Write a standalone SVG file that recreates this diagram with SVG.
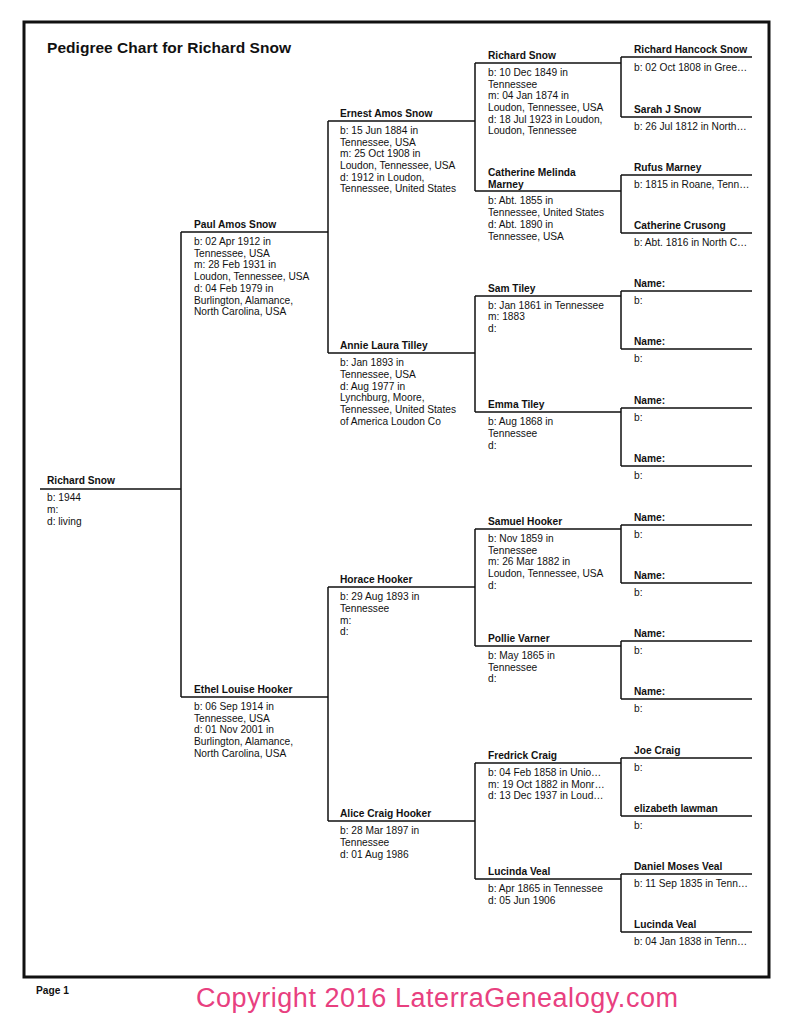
<svg xmlns="http://www.w3.org/2000/svg" width="793" height="1024" viewBox="0 0 793 1024">
<style>
text{font-family:"Liberation Sans",Arial,sans-serif;font-size:10.2px;fill:#111}
.n{font-weight:bold}
.l{stroke:#111;stroke-width:1.5;fill:none}
</style>
<rect width="793" height="1024" fill="#fff"/>
<rect x="24" y="22" width="745" height="955" fill="none" stroke="#111" stroke-width="3"/>
<text x="47" y="53" class="n" style="font-size:15.5px" textLength="244">Pedigree Chart for Richard Snow</text>
<g id="connectors" class="l">
<path d="M40 489H181M181 232V697M181 232H328M181 697H328"/>
<path d="M328 121V353M328 121H475M328 353H475M328 587V821M328 587H475M328 821H475"/>
<path d="M475 63V191M475 63H621M475 191H621M475 296V412M475 296H621M475 412H621M475 529V646M475 529H621M475 646H621M475 763V879M475 763H621M475 879H621"/>
<path d="M621 57V117M621 57H752M621 117H752M621 175V233M621 175H752M621 233H752M621 291V349M621 291H752M621 349H752M621 408V466M621 408H752M621 466H752M621 525V583M621 525H752M621 583H752M621 641V699M621 641H752M621 699H752M621 758V816M621 758H752M621 816H752M621 874V932M621 874H752M621 932H752"/>
</g>
<g id="p1"><text x="47" y="484" class="n">Richard Snow</text><text x="47" y="501">b: 1944</text><text x="47" y="513">m:</text><text x="47" y="525">d: living</text></g>
<g id="p2"><text x="194" y="228" class="n">Paul Amos Snow</text><text x="194" y="245">b: 02 Apr 1912 in</text><text x="194" y="257">Tennessee, USA</text><text x="194" y="268">m: 28 Feb 1931 in</text><text x="194" y="280">Loudon, Tennessee, USA</text><text x="194" y="292">d: 04 Feb 1979 in</text><text x="194" y="304">Burlington, Alamance,</text><text x="194" y="315">North Carolina, USA</text></g>
<g id="p3"><text x="194" y="693" class="n">Ethel Louise Hooker</text><text x="194" y="710">b: 06 Sep 1914 in</text><text x="194" y="722">Tennessee, USA</text><text x="194" y="733">d: 01 Nov 2001 in</text><text x="194" y="745">Burlington, Alamance,</text><text x="194" y="757">North Carolina, USA</text></g>
<g id="p4"><text x="340" y="117" class="n">Ernest Amos Snow</text><text x="340" y="134">b: 15 Jun 1884 in</text><text x="340" y="146">Tennessee, USA</text><text x="340" y="157">m: 25 Oct 1908 in</text><text x="340" y="169">Loudon, Tennessee, USA</text><text x="340" y="181">d: 1912 in Loudon,</text><text x="340" y="192">Tennessee, United States</text></g>
<g id="p5"><text x="340" y="349" class="n">Annie Laura Tilley</text><text x="340" y="366">b: Jan 1893 in</text><text x="340" y="378">Tennessee, USA</text><text x="340" y="390">d: Aug 1977 in</text><text x="340" y="401">Lynchburg, Moore,</text><text x="340" y="413">Tennessee, United States</text><text x="340" y="425">of America Loudon Co</text></g>
<g id="p6"><text x="340" y="583" class="n">Horace Hooker</text><text x="340" y="600">b: 29 Aug 1893 in</text><text x="340" y="612">Tennessee</text><text x="340" y="624">m:</text><text x="340" y="635">d:</text></g>
<g id="p7"><text x="340" y="817" class="n">Alice Craig Hooker</text><text x="340" y="834">b: 28 Mar 1897 in</text><text x="340" y="846">Tennessee</text><text x="340" y="858">d: 01 Aug 1986</text></g>
<g id="p8"><text x="488" y="59" class="n">Richard Snow</text><text x="488" y="76">b: 10 Dec 1849 in</text><text x="488" y="88">Tennessee</text><text x="488" y="99">m: 04 Jan 1874 in</text><text x="488" y="111">Loudon, Tennessee, USA</text><text x="488" y="123">d: 18 Jul 1923 in Loudon,</text><text x="488" y="134">Loudon, Tennessee</text></g>
<g id="p9"><text x="488" y="176" class="n">Catherine Melinda</text><text x="488" y="188" class="n">Marney</text><text x="488" y="204">b: Abt. 1855 in</text><text x="488" y="216">Tennessee, United States</text><text x="488" y="228">d: Abt. 1890 in</text><text x="488" y="240">Tennessee, USA</text></g>
<g id="p10"><text x="488" y="292" class="n">Sam Tiley</text><text x="488" y="309">b: Jan 1861 in Tennessee</text><text x="488" y="320">m: 1883</text><text x="488" y="332">d:</text></g>
<g id="p11"><text x="488" y="408" class="n">Emma Tiley</text><text x="488" y="425">b: Aug 1868 in</text><text x="488" y="437">Tennessee</text><text x="488" y="449">d:</text></g>
<g id="p12"><text x="488" y="525" class="n">Samuel Hooker</text><text x="488" y="542">b: Nov 1859 in</text><text x="488" y="554">Tennessee</text><text x="488" y="565">m: 26 Mar 1882 in</text><text x="488" y="577">Loudon, Tennessee, USA</text><text x="488" y="589">d:</text></g>
<g id="p13"><text x="488" y="642" class="n">Pollie Varner</text><text x="488" y="659">b: May 1865 in</text><text x="488" y="671">Tennessee</text><text x="488" y="682">d:</text></g>
<g id="p14"><text x="488" y="759" class="n">Fredrick Craig</text><text x="488" y="776">b: 04 Feb 1858 in Unio…</text><text x="488" y="788">m: 19 Oct 1882 in Monr…</text><text x="488" y="799">d: 13 Dec 1937 in Loud…</text></g>
<g id="p15"><text x="488" y="875" class="n">Lucinda Veal</text><text x="488" y="892">b: Apr 1865 in Tennessee</text><text x="488" y="904">d: 05 Jun 1906</text></g>
<g id="p16"><text x="634" y="53" class="n">Richard Hancock Snow</text><text x="634" y="71">b: 02 Oct 1808 in Gree…</text></g>
<g id="p17"><text x="634" y="113" class="n">Sarah J Snow</text><text x="634" y="130">b: 26 Jul 1812 in North…</text></g>
<g id="p18"><text x="634" y="171" class="n">Rufus Marney</text><text x="634" y="188">b: 1815 in Roane, Tenn…</text></g>
<g id="p19"><text x="634" y="229" class="n">Catherine Crusong</text><text x="634" y="246">b: Abt. 1816 in North C…</text></g>
<g id="p20"><text x="634" y="287" class="n">Name:</text><text x="634" y="304">b:</text></g>
<g id="p21"><text x="634" y="345" class="n">Name:</text><text x="634" y="362">b:</text></g>
<g id="p22"><text x="634" y="404" class="n">Name:</text><text x="634" y="421">b:</text></g>
<g id="p23"><text x="634" y="462" class="n">Name:</text><text x="634" y="479">b:</text></g>
<g id="p24"><text x="634" y="521" class="n">Name:</text><text x="634" y="538">b:</text></g>
<g id="p25"><text x="634" y="579" class="n">Name:</text><text x="634" y="596">b:</text></g>
<g id="p26"><text x="634" y="637" class="n">Name:</text><text x="634" y="654">b:</text></g>
<g id="p27"><text x="634" y="695" class="n">Name:</text><text x="634" y="712">b:</text></g>
<g id="p28"><text x="634" y="754" class="n">Joe Craig</text><text x="634" y="771">b:</text></g>
<g id="p29"><text x="634" y="812" class="n">elizabeth lawman</text><text x="634" y="829">b:</text></g>
<g id="p30"><text x="634" y="870" class="n">Daniel Moses Veal</text><text x="634" y="887">b: 11 Sep 1835 in Tenn…</text></g>
<g id="p31"><text x="634" y="928" class="n">Lucinda Veal</text><text x="634" y="945">b: 04 Jan 1838 in Tenn…</text></g>
<text x="36" y="994" class="n">Page 1</text>
<text x="196" y="1007" style="font-size:27px;fill:#e8407f" textLength="482">Copyright 2016 LaterraGenealogy.com</text>
</svg>
